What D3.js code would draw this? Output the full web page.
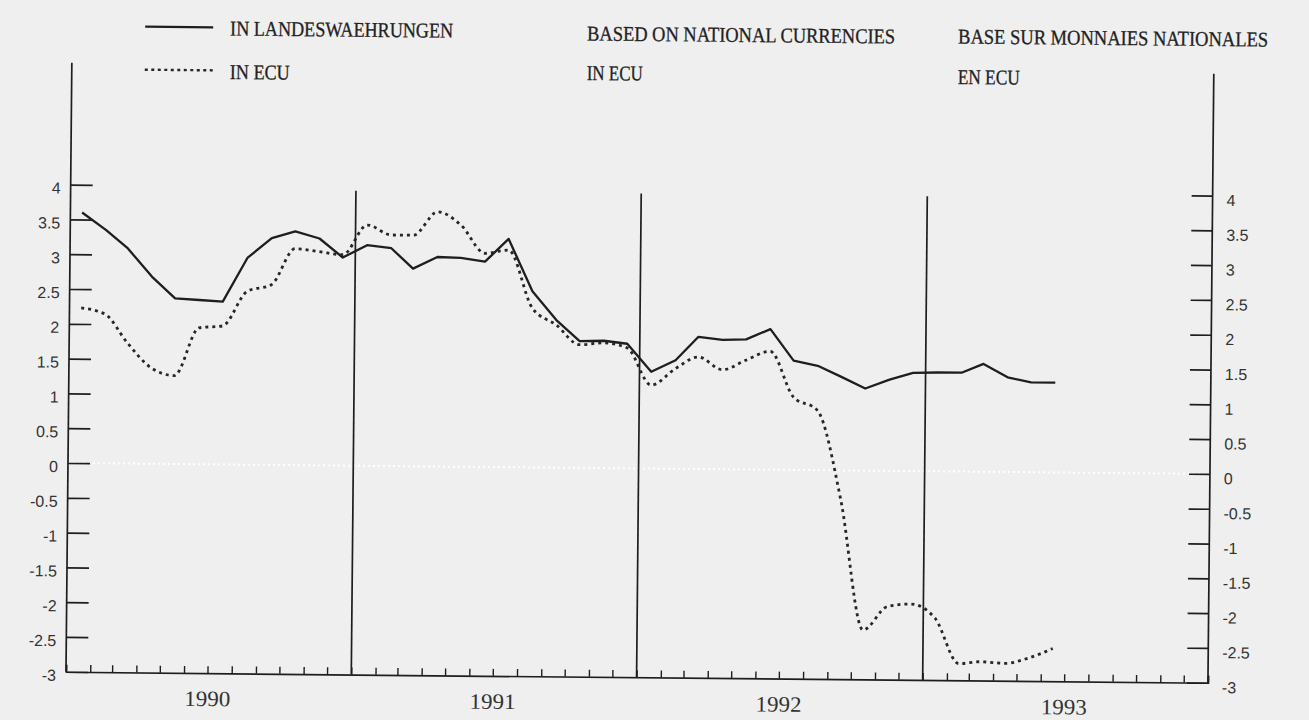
<!DOCTYPE html>
<html><head><meta charset="utf-8">
<script src="https://cdn.jsdelivr.net/npm/d3@7"></script>
<style>html,body{margin:0;padding:0;background:#efefef;} svg{display:block}</style>
</head><body><svg id="c" width="1309" height="720"></svg>
<script>
// ---- data ----
const months = ["1990-01","1990-02","1990-03","1990-04","1990-05","1990-06","1990-07","1990-08","1990-09","1990-10","1990-11","1990-12",
"1991-01","1991-02","1991-03","1991-04","1991-05","1991-06","1991-07","1991-08","1991-09","1991-10","1991-11","1991-12",
"1992-01","1992-02","1992-03","1992-04","1992-05","1992-06","1992-07","1992-08","1992-09","1992-10","1992-11","1992-12",
"1993-01","1993-02","1993-03","1993-04","1993-05","1993-06"];
const landes = [3.60,3.35,3.09,2.69,2.38,2.36,2.34,2.97,3.26,3.36,3.26,2.99,
3.17,3.13,2.84,3.01,3.00,2.95,3.28,2.53,2.12,1.82,1.83,1.79,
1.39,1.56,1.90,1.86,1.87,2.02,1.57,1.50,1.34,1.18,1.31,1.41,
1.42,1.42,1.55,1.36,1.29,1.29];
const ecu = [2.23,2.14,1.74,1.38,1.27,1.96,1.99,2.49,2.59,3.11,3.07,3.03,
3.46,3.32,3.32,3.66,3.47,3.07,3.12,2.29,2.05,1.77,1.80,1.73,
1.20,1.44,1.61,1.43,1.57,1.70,1.05,0.86,-0.42,-2.29,-1.95,-1.91,
-2.11,-2.76,-2.73,-2.75,-2.67,-2.53];
const yTicks = [4,3.5,3,2.5,2,1.5,1,0.5,0,-0.5,-1,-1.5,-2,-2.5,-3];
const years = ["1990","1991","1992","1993"];
const legendLabels = ["IN LANDESWAEHRUNGEN","IN ECU"];
const headerEN = ["BASED ON NATIONAL CURRENCIES","IN ECU"];
const headerFR = ["BASE SUR MONNAIES NATIONALES","EN ECU"];

// ---- chart ----
const svg = d3.select("#c");
svg.append("rect").attr("width",1309).attr("height",720).attr("fill","#efefef");
const g = svg.append("g").attr("transform","rotate(0.55,70,463)");

const parse = s => { const [yy,mm]=s.split("-").map(Number); return new Date(yy,mm-1,16); };
const x = d3.scaleTime().domain([new Date(1990,0,1), new Date(1994,0,1)]).range([68,1210]);
const y = d3.scaleLinear().domain([-3,4]).range([671.8,184.6]);
const ink = "#1e1e1e";
const [xL, xR] = x.range();

// zero line (faint white dotted)
g.append("line").attr("x1",xL).attr("x2",xR).attr("y1",y(0)).attr("y2",y(0))
 .attr("stroke","#ffffff").attr("stroke-width",2).attr("stroke-dasharray","2,3");

// left axis
g.append("line").attr("x1",xL).attr("x2",xL).attr("y1",y(-3)).attr("y2",y(5.75)).attr("stroke",ink).attr("stroke-width",1.7);
const la = g.append("g").attr("transform",`translate(${xL},0)`)
  .call(d3.axisRight(y).tickValues(yTicks).tickSize(22).tickFormat(""));
la.select(".domain").remove();
la.selectAll("line").attr("stroke",ink).attr("stroke-width",1.7);
g.append("g").selectAll("text").data(yTicks).join("text")
  .attr("x",xL-10).attr("y",d=>y(d)+5).attr("text-anchor","end").attr("dominant-baseline","middle")
  .attr("font-family","Liberation Sans, Arial, sans-serif").attr("font-size",16).attr("fill","#333")
  .text(d=>String(d));

// right axis
g.append("line").attr("x1",xR).attr("x2",xR).attr("y1",y(-3)).attr("y2",y(5.75)).attr("stroke",ink).attr("stroke-width",1.7);
const ra = g.append("g").attr("transform",`translate(${xR},0)`)
  .call(d3.axisLeft(y).tickValues(yTicks).tickSize(21).tickFormat(""));
ra.select(".domain").remove();
ra.selectAll("line").attr("stroke",ink).attr("stroke-width",1.7);
g.append("g").selectAll("text").data(yTicks).join("text")
  .attr("x",xR+14).attr("y",d=>y(d)+6).attr("text-anchor","start").attr("dominant-baseline","middle")
  .attr("font-family","Liberation Sans, Arial, sans-serif").attr("font-size",16).attr("fill","#333")
  .text(d=>String(d));

// bottom axis with monthly ticks
const ba = g.append("g").attr("transform",`translate(0,${y(-3)})`)
  .call(d3.axisTop(x).ticks(d3.timeMonth.every(1)).tickSize(7).tickFormat(""));
ba.select(".domain").attr("stroke",ink).attr("stroke-width",1.7);
ba.selectAll("line").attr("stroke",ink).attr("stroke-width",1.4);

// year dividers
const yearStarts = years.slice(1).map(s=>new Date(+s,0,1));
g.append("g").selectAll("line").data(yearStarts).join("line")
  .attr("x1",d=>x(d)).attr("x2",d=>x(d)).attr("y1",y(-3)).attr("y2",y(3.95))
  .attr("stroke",ink).attr("stroke-width",1.7);

// year labels
g.append("g").selectAll("text").data(years).join("text")
  .attr("x",d=>x(new Date(+d,6,1))).attr("y",y(-3)+33).attr("text-anchor","middle")
  .attr("font-family","Liberation Serif, serif").attr("font-size",22).attr("fill","#333")
  .attr("textLength",46).attr("lengthAdjust","spacingAndGlyphs")
  .text(d=>d);

// series
const pts = arr => arr.map((v,i)=>[x(parse(months[i])), y(v)]);
g.append("path").attr("d",d3.line().curve(d3.curveLinear)(pts(landes)))
  .attr("fill","none").attr("stroke",ink).attr("stroke-width",2.3).attr("stroke-linejoin","round");
g.append("path").attr("d",d3.line().curve(d3.curveMonotoneX)(pts(ecu)))
  .attr("fill","none").attr("stroke","#262626").attr("stroke-width",2.8).attr("stroke-dasharray","3,4");

// legend + headers
g.append("line").attr("x1",141).attr("x2",209).attr("y1",26).attr("y2",26).attr("stroke",ink).attr("stroke-width",2.3);
g.append("line").attr("x1",141).attr("x2",209).attr("y1",69).attr("y2",69).attr("stroke","#262626").attr("stroke-width",2.4).attr("stroke-dasharray","3,3.5");
const texts = [
  {t:legendLabels[0], x:226, y:34, w:223},
  {t:legendLabels[1], x:226, y:77.5, w:60},
  {t:headerEN[0], x:583, y:35.5, w:308},
  {t:headerEN[1], x:583, y:75, w:56},
  {t:headerFR[0], x:954, y:35, w:310},
  {t:headerFR[1], x:954, y:75.5, w:62}
];
g.append("g").selectAll("text").data(texts).join("text")
  .attr("x",d=>d.x).attr("y",d=>d.y)
  .attr("font-family","Liberation Serif, serif").attr("font-size",21).attr("fill","#222")
  .attr("stroke","#222").attr("stroke-width",0.3)
  .attr("textLength",d=>d.w).attr("lengthAdjust","spacingAndGlyphs")
  .text(d=>d.t);
</script></body></html>
